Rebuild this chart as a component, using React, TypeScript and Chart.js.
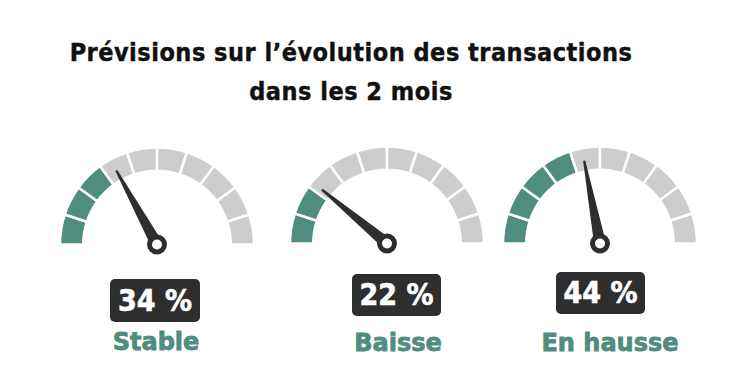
import React, { useEffect, useRef } from "react";
import { Chart, registerables } from "chart.js";

Chart.register(...registerables);

// ---- data ----
const titleLines = ["Prévisions sur l’évolution des transactions", "dans les 2 mois"];
const categories = ["Stable", "Baisse", "En hausse"];
const percentages = [34, 22, 44];
const gaugeSegments = [10, 10, 10, 10, 10, 10, 10, 10, 10, 10];
const segmentLabels = ["0-10", "10-20", "20-30", "30-40", "40-50", "50-60", "60-70", "70-80", "80-90", "90-100"];

// ---- styling / layout ----
const TEAL = "#4f8d7f";
const GREY = "#cdcdcd";
const DARK = "#2e2e2e";
const CANVAS_W = 230;
const CANVAS_H = 120;
const RADIUS = 97;

const gaugeCenters = [
  { cx: 157, cy: 244 },
  { cx: 387, cy: 243 },
  { cx: 600, cy: 243 },
];
const boxLayout = [
  { left: 110, top: 279, w: 90, h: 43 },
  { left: 352, top: 274, w: 89, h: 42 },
  { left: 556, top: 272, w: 89, h: 42 },
];
const labelLayout = [
  { cx: 156, top: 328 },
  { cx: 398, top: 329 },
  { cx: 610, top: 329 },
];

const needlePlugin = {
  id: "needle",
  afterDatasetsDraw(chart: any, _args: any, opts: any) {
    const arc: any = chart.getDatasetMeta(0).data[0];
    if (!arc) return;
    const { x, y, outerRadius } = arc.getProps(["x", "y", "outerRadius"], true);
    const value = opts.value as number;
    const ang = Math.PI + (value / 100) * Math.PI;
    const len = outerRadius * 0.87;
    const half = 6;
    const ctx = chart.ctx;
    ctx.save();
    ctx.fillStyle = DARK;
    const tx = x + Math.cos(ang) * len;
    const ty = y + Math.sin(ang) * len;
    const px = Math.cos(ang + Math.PI / 2);
    const py = Math.sin(ang + Math.PI / 2);
    ctx.beginPath();
    ctx.moveTo(tx + px * 1.1, ty + py * 1.1);
    ctx.lineTo(x + px * half, y + py * half);
    ctx.lineTo(x - px * half, y - py * half);
    ctx.lineTo(tx - px * 1.1, ty - py * 1.1);
    ctx.closePath();
    ctx.fill();
    ctx.beginPath();
    ctx.arc(x, y, 10, 0, Math.PI * 2);
    ctx.fill();
    ctx.fillStyle = "#ffffff";
    ctx.beginPath();
    ctx.arc(x, y, 5, 0, Math.PI * 2);
    ctx.fill();
    ctx.restore();
  },
};

function Gauge({ value, cx, cy }: { value: number; cx: number; cy: number }) {
  const ref = useRef<HTMLCanvasElement | null>(null);
  useEffect(() => {
    if (!ref.current) return;
    let cum = 0;
    const colors = gaugeSegments.map((s) => {
      cum += s;
      return cum <= value ? TEAL : GREY;
    });
    const chart = new Chart(ref.current, {
      type: "doughnut",
      data: {
        labels: segmentLabels,
        datasets: [
          {
            data: gaugeSegments,
            backgroundColor: colors,
            borderColor: "#ffffff",
            borderWidth: 2.5,
            hoverOffset: 0,
          },
        ],
      },
      options: {
        responsive: false,
        animation: false,
        circumference: 180,
        rotation: -90,
        radius: RADIUS,
        cutout: "76%",
        layout: { padding: 0 },
        events: [],
        plugins: {
          legend: { display: false },
          tooltip: { enabled: false },
          // @ts-ignore
          needle: { value },
        },
      } as any,
      plugins: [needlePlugin as any],
    });
    return () => chart.destroy();
  }, [value]);
  const centerOffsetY = CANVAS_H / 2 + RADIUS / 2;
  return (
    <canvas
      ref={ref}
      width={CANVAS_W}
      height={CANVAS_H}
      style={{
        position: "absolute",
        left: cx - CANVAS_W / 2,
        top: cy - centerOffsetY,
        width: CANVAS_W,
        height: CANVAS_H,
      }}
    />
  );
}

export default function App() {
  return (
    <div
      style={{
        position: "absolute",
        left: 0,
        top: 0,
        width: 750,
        height: 374,
        background: "#ffffff",
        overflow: "hidden",
      }}
    >
      <div
        style={{
          position: "absolute",
          left: 0,
          top: 33,
          width: 702,
          textAlign: "center",
          fontFamily: "'DejaVu Sans Condensed', 'DejaVu Sans', sans-serif",
          fontWeight: 700,
          fontSize: 25,
          letterSpacing: "0.5px",
          lineHeight: "39px",
          color: "#111111",
          whiteSpace: "nowrap",
          WebkitTextStroke: "0.4px #111111",
        }}
      >
        {titleLines.map((t, i) => (
          <div key={i}>{t}</div>
        ))}
      </div>
      {percentages.map((v, i) => (
        <Gauge key={i} value={v} cx={gaugeCenters[i].cx} cy={gaugeCenters[i].cy} />
      ))}
      {percentages.map((v, i) => (
        <div
          key={"b" + i}
          style={{
            position: "absolute",
            left: boxLayout[i].left,
            top: boxLayout[i].top,
            width: boxLayout[i].w,
            height: boxLayout[i].h,
            lineHeight: boxLayout[i].h + "px",
            background: DARK,
            borderRadius: 5,
            color: "#ffffff",
            textAlign: "center",
            fontFamily: "'DejaVu Sans Condensed', 'DejaVu Sans', sans-serif",
            fontWeight: 700,
            fontSize: 30,
            whiteSpace: "nowrap",
            WebkitTextStroke: "0.6px #ffffff",
          }}
        >
          {v + " %"}
        </div>
      ))}
      {categories.map((c, i) => (
        <div
          key={"l" + i}
          style={{
            position: "absolute",
            left: labelLayout[i].cx - 100,
            top: labelLayout[i].top,
            width: 200,
            textAlign: "center",
            fontFamily: "'DejaVu Sans', sans-serif",
            fontWeight: 700,
            fontSize: 24,
            lineHeight: "28px",
            color: TEAL,
            whiteSpace: "nowrap",
            WebkitTextStroke: "0.8px " + TEAL,
          }}
        >
          {c}
        </div>
      ))}
    </div>
  );
}
